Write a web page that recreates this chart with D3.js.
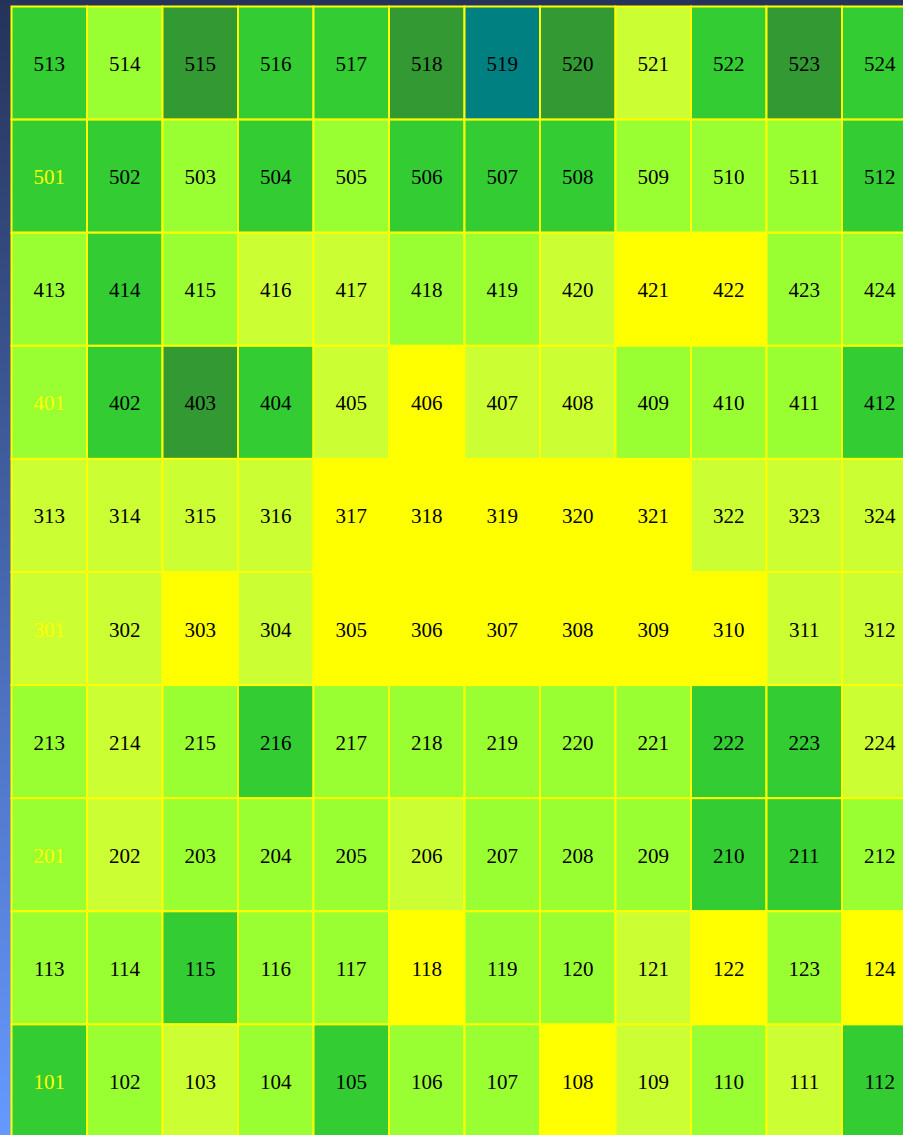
<!DOCTYPE html>
<head>
    <meta charset="utf-8">
    <title>Grid map</title>
    <script src="https://d3js.org/d3.v7.min.js"></script>
    <style>
        body{
            margin: 0;
            overflow: hidden;
        }
        text.cellLabel{
            font-family: "Liberation Serif", "Times New Roman", serif;
            font-size: 21px;
        }
    </style>
</head>
<body>
<script>
    // first label of each row, top row first
    var rowStarts = [513, 501, 413, 401, 313, 301, 213, 201, 113, 101];

    // colour level for each cell: 0 yellow .. 4 dark green, 5 teal
    var row513 = [3, 2, 4, 3, 3, 4, 5, 4, 1, 3, 4, 3];
    var row501 = [3, 3, 2, 3, 2, 3, 3, 3, 2, 2, 2, 3];
    var row413 = [2, 3, 2, 1, 1, 2, 2, 1, 0, 0, 2, 2];
    var row401 = [2, 3, 4, 3, 1, 0, 1, 1, 2, 2, 2, 3];
    var row313 = [1, 1, 1, 1, 0, 0, 0, 0, 0, 1, 1, 1];
    var row301 = [1, 1, 0, 1, 0, 0, 0, 0, 0, 0, 1, 1];
    var row213 = [2, 1, 2, 3, 2, 2, 2, 2, 2, 3, 3, 1];
    var row201 = [2, 1, 2, 2, 2, 1, 2, 2, 2, 3, 3, 2];
    var row113 = [2, 2, 3, 2, 2, 0, 2, 2, 1, 0, 2, 0];
    var row101 = [3, 2, 1, 2, 3, 2, 2, 0, 1, 2, 1, 3];

    var levels = [0, 1, 2, 3, 4, 5];
    var levelColours = ["#ffff00", "#ccff33", "#99ff33", "#33cc33", "#339933", "#008080"];

    // labels drawn in yellow instead of black
    var yellowLabels = [101, 201, 301, 401, 501];

    var rows = [row513, row501, row413, row401, row313, row301, row213, row201, row113, row101];

    var width = 903;
    var height = 1135;

    var svg = d3.select("body").append("svg")
        .attr("width", width)
        .attr("height", height);

    // background gradient, dark navy at top to light blue at bottom
    var grad = svg.append("defs").append("linearGradient")
        .attr("id", "bg")
        .attr("x1", 0).attr("y1", 0)
        .attr("x2", 0).attr("y2", 1);
    grad.append("stop").attr("offset", "0%").attr("stop-color", "#25335a");
    grad.append("stop").attr("offset", "100%").attr("stop-color", "#6699ff");

    svg.append("rect")
        .attr("width", width)
        .attr("height", height)
        .style("fill", "url(#bg)");

    var cells = [];
    rows.forEach(function(r, ri) {
        r.forEach(function(v, ci) {
            cells.push({row: ri, col: ci, level: v, label: rowStarts[ri] + ci});
        });
    });

    var x = d3.scaleBand()
        .domain(d3.range(12))
        .range([11.5, 11.5 + 12 * 75.5]);

    var y = d3.scaleBand()
        .domain(d3.range(rows.length))
        .range([6.5, 6.5 + rows.length * 113.1]);

    var colour = d3.scaleOrdinal()
        .domain(levels)
        .range(levelColours);

    svg.selectAll("rect.cell")
        .data(cells)
        .enter()
        .append("rect")
        .attr("class", "cell")
        .attr("x", d => x(d.col))
        .attr("y", d => y(d.row))
        .attr("width", x.bandwidth())
        .attr("height", y.bandwidth())
        .style("fill", d => colour(d.level))
        .style("stroke", "#ffff00")
        .style("stroke-width", 2);

    svg.selectAll("text.cellLabel")
        .data(cells)
        .enter()
        .append("text")
        .attr("class", "cellLabel")
        .attr("x", d => x(d.col) + x.bandwidth() / 2)
        .attr("y", d => y(d.row) + y.bandwidth() / 2 + 8)
        .style("text-anchor", "middle")
        .style("fill", d => yellowLabels.indexOf(d.label) >= 0 ? "#ffff00" : "#000000")
        .text(d => d.label);
</script>
</body>
